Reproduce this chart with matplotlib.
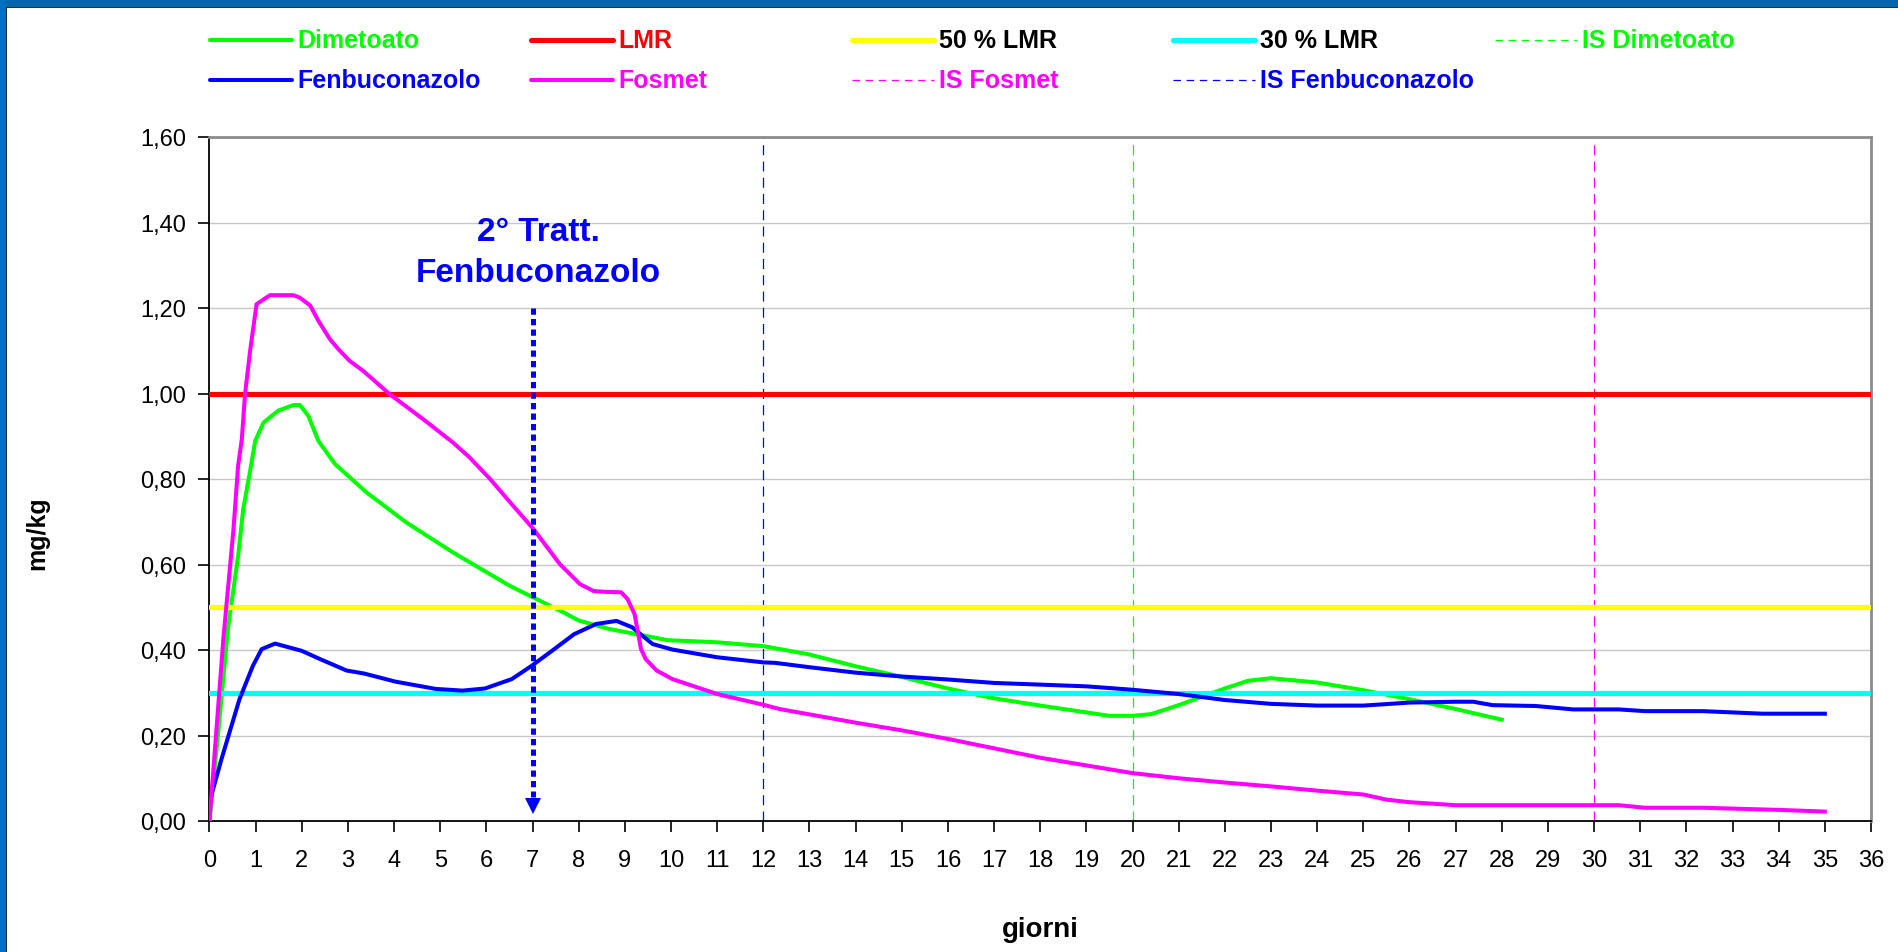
import matplotlib
matplotlib.use("Agg")
import matplotlib.pyplot as plt
from matplotlib.lines import Line2D
from matplotlib.patches import Rectangle

plt.rcParams['font.family'] = ['Liberation Sans', 'DejaVu Sans']

# ---------------- data ----------------
dim_x = [0, 0.2, 0.4, 0.62, 0.73, 0.88, 0.99, 1.17, 1.49, 1.82, 1.96, 2.14, 2.36, 2.72,
         3.41, 4.27, 5.28, 6.51, 7.09, 7.67, 8.0, 8.67, 9.25, 9.93, 11.0, 12.0, 12.98,
         14, 15, 16, 17, 18, 19, 19.5, 20, 20.4, 21, 22, 22.5, 23, 24, 25, 26, 27, 28]
dim_y = [0.0, 0.22, 0.45, 0.62, 0.729, 0.819, 0.889, 0.932, 0.96, 0.973, 0.973, 0.948,
         0.889, 0.835, 0.768, 0.698, 0.628, 0.55, 0.519, 0.488, 0.469, 0.449, 0.437,
         0.423, 0.418, 0.409, 0.39, 0.362, 0.337, 0.31, 0.287, 0.27, 0.254, 0.246,
         0.246, 0.25, 0.271, 0.31, 0.328, 0.334, 0.324, 0.306, 0.285, 0.262, 0.237]

fen_x = [0, 0.26, 0.65, 0.94, 1.13, 1.42, 2.0, 2.39, 2.97, 3.35, 4.03, 4.9, 5.48, 5.97,
         6.55, 6.98, 7.42, 7.9, 8.38, 8.82, 9.16, 9.6, 10.03, 11.0, 12.0, 12.25, 12.98,
         14, 15, 16, 17, 18, 19, 20, 21, 22, 23, 24, 25, 26, 27, 27.38, 27.8, 28.74,
         29.55, 30.54, 31.1, 32.35, 33.65, 35]
fen_y = [0.044, 0.145, 0.285, 0.363, 0.402, 0.415, 0.398, 0.379, 0.352, 0.345, 0.326,
         0.309, 0.305, 0.31, 0.332, 0.363, 0.398, 0.437, 0.461, 0.468, 0.453, 0.414,
         0.401, 0.383, 0.371, 0.370, 0.36, 0.347, 0.338, 0.331, 0.323, 0.319, 0.315,
         0.307, 0.297, 0.283, 0.274, 0.27, 0.27, 0.277, 0.279, 0.279, 0.271, 0.269,
         0.261, 0.261, 0.257, 0.257, 0.251, 0.251]

fos_x = [0, 0.3, 0.52, 0.62, 0.7, 0.77, 0.88, 1.02, 1.31, 1.82, 1.96, 2.18, 2.36, 2.61,
         2.79, 3.04, 3.33, 3.91, 4.63, 5.28, 5.64, 6.08, 6.55, 7.02, 7.59, 8.03, 8.32,
         8.58, 8.92, 9.06, 9.21, 9.35, 9.45, 9.69, 10.03, 11.0, 12.0, 12.35, 14, 15, 16,
         17, 18, 19, 20, 21, 22, 23, 24, 25, 25.5, 26, 27, 28, 29, 30, 30.54, 31.1,
         32.35, 33, 34, 35]
fos_y = [0.0, 0.426, 0.683, 0.831, 0.893, 0.998, 1.10, 1.209, 1.23, 1.23, 1.224, 1.206,
         1.17, 1.127, 1.104, 1.076, 1.053, 0.998, 0.94, 0.885, 0.85, 0.80, 0.741, 0.683,
         0.601, 0.554, 0.538, 0.536, 0.535, 0.519, 0.484, 0.402, 0.379, 0.352, 0.332,
         0.297, 0.272, 0.262, 0.23, 0.212, 0.192, 0.17, 0.148, 0.13, 0.112, 0.10, 0.09,
         0.081, 0.071, 0.062, 0.05, 0.044, 0.037, 0.037, 0.037, 0.037, 0.037, 0.031,
         0.031, 0.029, 0.026, 0.022]

lmr = 1.0
lmr50 = 0.5
lmr30 = 0.3
is_dim = 20
is_fos = 30
is_fen = 12
tratt_day = 7
tratt_top = 1.2

x_ticks = list(range(0, 37))
y_ticks = [0.0, 0.2, 0.4, 0.6, 0.8, 1.0, 1.2, 1.4, 1.6]
y_ticklabels = ['0,00', '0,20', '0,40', '0,60', '0,80', '1,00', '1,20', '1,40', '1,60']

legend_labels = ['Dimetoato', 'LMR', '50 % LMR', '30 % LMR', 'IS Dimetoato',
                 'Fenbuconazolo', 'Fosmet', 'IS Fosmet', 'IS Fenbuconazolo']

GREEN = '#00FF00'
BLUE = '#0000FF'
MAG = '#FF00FF'
RED = '#FF0000'
YEL = '#FFFF00'
CYAN = '#00FFFF'

# ---------------- figure ----------------
W, H = 1899, 953
fig = plt.figure(figsize=(W / 100, H / 100), dpi=100)
fig.patch.set_facecolor('white')

# blue frame (top and left)
fig.patches.append(Rectangle((0, 1 - 8 / H), 1, 8 / H, transform=fig.transFigure,
                             facecolor='#0067AC', edgecolor='none', zorder=0))
fig.patches.append(Rectangle((0, 1 - 9 / H), 1, 1.2 / H, transform=fig.transFigure,
                             facecolor='#1C2B3A', edgecolor='none', zorder=0))
fig.patches.append(Rectangle((0, 0), 6 / W, 1, transform=fig.transFigure,
                             facecolor='#0070BE', edgecolor='none', zorder=0))
fig.patches.append(Rectangle((6 / W, 0), 1.2 / W, 1 - 8 / H, transform=fig.transFigure,
                             facecolor='#1C2B3A', edgecolor='none', zorder=0))

x0, x1 = 209.5, 1871
y0, y1 = 822, 138
ax = fig.add_axes([x0 / W, 1 - y0 / H, (x1 - x0) / W, (y0 - y1) / H])
ax.set_xlim(0, 36)
ax.set_ylim(0, 1.6)

ax.set_yticks(y_ticks)
ax.set_yticklabels(y_ticklabels)
ax.set_xticks(x_ticks)
ax.set_xticklabels([str(t) for t in x_ticks])
ax.tick_params(axis='both', direction='out', length=8, width=1.2, colors='black',
               labelsize=17)
ax.tick_params(axis='y', pad=9)
ax.tick_params(axis='x', pad=12)

for yv in y_ticks[1:-1]:
    ax.axhline(yv, color='#C8C8C8', lw=1.0, zorder=0.5)

for s in ['top', 'right']:
    ax.spines[s].set_color('#8C8C8C')
    ax.spines[s].set_linewidth(2)
for s in ['left', 'bottom']:
    ax.spines[s].set_color('black')
    ax.spines[s].set_linewidth(1.3)

# IS vertical lines
ax.axvline(is_fen, color=BLUE, lw=0.9, ls=(0, (8, 5)), zorder=1)
ax.axvline(is_dim, color=GREEN, lw=0.9, ls=(0, (8, 5)), zorder=1)
ax.axvline(is_fos, color=MAG, lw=0.9, ls=(0, (8, 5)), zorder=1)

# series & reference lines
lw_s = 2.9
lw_r = 3.7
ax.plot(dim_x, dim_y, color=GREEN, lw=lw_s, zorder=3, solid_joinstyle='round')
ax.axhline(lmr, color=RED, lw=lw_r, zorder=3)
ax.axhline(lmr50, color=YEL, lw=lw_r, zorder=3)
ax.axhline(lmr30, color=CYAN, lw=lw_r, zorder=3)
ax.plot(fen_x, fen_y, color=BLUE, lw=lw_s, zorder=4, solid_joinstyle='round')
ax.plot(fos_x, fos_y, color=MAG, lw=lw_s, zorder=4, solid_joinstyle='round')

# treatment arrow
ax.plot([tratt_day, tratt_day], [tratt_top, 0.055], color=BLUE, lw=3.6,
        ls=(0, (1.25, 0.85)), dash_capstyle='butt', zorder=5)
ax.plot([tratt_day], [0.034], marker='v', markersize=12, color=BLUE,
        markeredgewidth=0, zorder=5)
ax.text(tratt_day + 0.12, 1.378, '2° Tratt.', color=BLUE, fontsize=24,
        fontweight='bold', ha='center', va='center', zorder=6)
ax.text(tratt_day + 0.12, 1.283, 'Fenbuconazolo', color=BLUE, fontsize=24,
        fontweight='bold', ha='center', va='center', zorder=6)

# axis titles
fig.text(1040 / W, 1 - 930 / H, 'giorni', fontsize=20, fontweight='bold',
         ha='center', va='center')
fig.text(37 / W, 1 - 533 / H, 'mg/kg', fontsize=18, fontweight='bold',
         ha='center', va='center', rotation=90)

# legend (manual grid, row-major like the original)
leg_styles = [
    (GREEN, lw_s, '-', GREEN), (RED, lw_r, '-', RED), (YEL, lw_r, '-', 'black'),
    (CYAN, lw_r, '-', 'black'), (GREEN, 0.9, (0, (6, 4.5)), GREEN),
    (BLUE, lw_s, '-', BLUE), (MAG, lw_s, '-', MAG), (MAG, 0.9, (0, (6, 4.5)), MAG),
    (BLUE, 0.9, (0, (6, 4.5)), BLUE),
]
col_x = [210, 531, 852, 1173, 1495]
row_y = [40.5, 81]
for i, (lab, st) in enumerate(zip(legend_labels, leg_styles)):
    r, c = divmod(i, 5)
    xs, yy = col_x[c], row_y[r]
    color, lw, ls, tcol = st
    fig.add_artist(Line2D([xs / W, (xs + 82) / W], [1 - yy / H, 1 - yy / H],
                          transform=fig.transFigure, color=color, lw=lw, ls=ls,
                          solid_capstyle='round'))
    fig.text((xs + 87) / W, 1 - yy / H, lab, color=tcol, fontsize=18,
             fontweight='bold', ha='left', va='center')

fig.savefig('out.png', dpi=100)
